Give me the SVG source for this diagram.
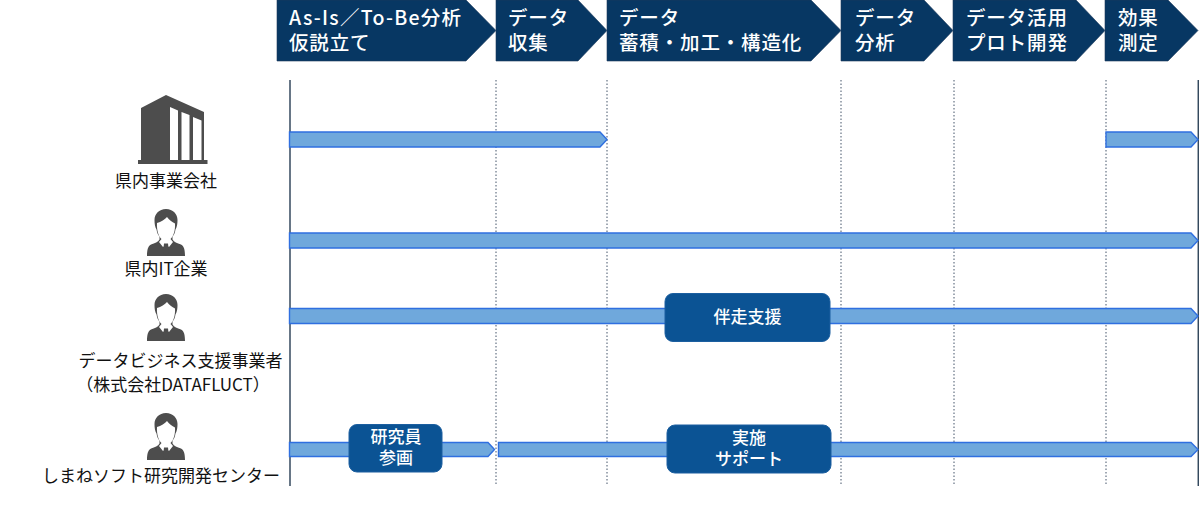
<svg xmlns="http://www.w3.org/2000/svg" xmlns:xlink="http://www.w3.org/1999/xlink" width="1199" height="530" viewBox="0 0 1199 530">
<style>
text{font-family:"Noto Sans CJK JP","Noto Sans",sans-serif}
.h{fill:#073763;stroke:#1f3b5c;stroke-width:.6}
.ht{fill:#fff;font-size:19.500px;font-weight:500;letter-spacing:.85px}
.l{fill:#111;font-size:17px;text-anchor:middle}
.b{fill:#6fa8dc;stroke:#2f6fe0;stroke-width:1.400}
.n{fill:#0b5394;stroke:#1c5fa0;stroke-width:1}
.nt{fill:#fff;font-size:17px;font-weight:500;text-anchor:middle}
.d{stroke:#44546a;stroke-width:1;stroke-dasharray:1.500 2;fill:none}
.s{stroke:#34495e;stroke-width:1.500;fill:none}
.ic{fill:#4d4d4d}
</style>
<defs>
<g id="person">
<path class="ic" d="M0 0C-7 0-11.500 5-11.500 11C-11.500 15-11 18-9.500 20.500C-9 24-8 26-6.500 27.500L-6.500 30.500C-8 33-11 34-15 35.500C-18 37-19 41-19 47L19 47C19 41 18 37 15 35.500C11 34 8 33 6.500 30.500L6.500 27.500C8 26 9 24 9.500 20.500C11 18 11.500 15 11.500 11C11.500 5 7 0 0 0Z"/>
<path fill="#fff" d="M-9 14C-5 13-1 10 1 8C3 11 6 13 9 14.500C9.500 22 7 28 4.500 30L7 33L3 38L0 36L-3 38L-7 33L-4.500 30C-7 28-9.500 22-9 14Z"/>
<path class="ic" d="M-2 34.500L2 34.500L3 44L0 46.500L-3 44Z"/>
</g>
</defs>
<g id="connectors">
<path class="s" d="M290 80V486"/>
<path class="s" d="M1198.300 80V486"/>
<path class="d" d="M496 80V486M607 80V486M841 80V486M954 80V486M1106 80V486"/>
<path class="b" d="M289.500 132H600L607 139.500L600 147H289.500Z"/>
<path class="b" d="M1106 132H1191L1198 139.500L1191 147H1106Z"/>
<path class="b" d="M289.500 233H1191L1198 240.500L1191 248H289.500Z"/>
<path class="b" d="M289.500 308.500H1191L1198 316L1191 323.500H289.500Z"/>
<path class="b" d="M289.500 442.500H488L494.500 449.500L488 456.500H289.500Z"/>
<path class="b" d="M498.500 442.500H1191L1198 449.500L1191 456.500H498.500Z"/>
</g>
<g id="step1"><path class="h" d="M277 0H466L496 30.500L466 61H277Z"/><text class="ht"><tspan x="289" y="24.500" letter-spacing="1.300">As-Is／To-Be分析</tspan><tspan x="289" y="49.500">仮説立て</tspan></text></g>
<g id="step2"><path class="h" d="M496 0H578L607 30.500L578 61H496Z"/><text class="ht"><tspan x="508" y="24.500">データ</tspan><tspan x="508" y="49.500">収集</tspan></text></g>
<g id="step3"><path class="h" d="M607 0H811L841 30.500L811 61H607Z"/><text class="ht"><tspan x="619" y="24.500">データ</tspan><tspan x="619" y="49.500">蓄積・加工・構造化</tspan></text></g>
<g id="step4"><path class="h" d="M841 0H924L953 30.500L924 61H841Z"/><text class="ht"><tspan x="855" y="24.500">データ</tspan><tspan x="855" y="49.500">分析</tspan></text></g>
<g id="step5"><path class="h" d="M953 0H1076L1105 30.500L1076 61H953Z"/><text class="ht"><tspan x="966" y="24.500">データ活用</tspan><tspan x="966" y="49.500">プロト開発</tspan></text></g>
<g id="step6"><path class="h" d="M1105 0H1168L1198 30.500L1168 61H1105Z"/><text class="ht"><tspan x="1118" y="24.500">効果</tspan><tspan x="1118" y="49.500">測定</tspan></text></g>
<g id="company">
<path class="ic" d="M141 108L166 95L204 112V160H207.500V164H138V160H141Z"/>
<path fill="#fff" d="M170 107L178 110.500V160H170ZM181.500 112L189.500 115V160H181.500ZM193 117L201.500 120.500V160H193Z"/>
<text class="l" x="166" y="187">県内事業会社</text>
</g>
<g id="it"><use xlink:href="#person" href="#person" x="166" y="209"/><text class="l" x="166" y="274.500">県内IT企業</text></g>
<g id="datafluct"><use xlink:href="#person" href="#person" x="166" y="294"/><text class="l"><tspan x="180.500" y="367">データビジネス支援事業者</tspan><tspan x="173" y="391">（株式会社DATAFLUCT）</tspan></text></g>
<g id="shimane"><use xlink:href="#person" href="#person" x="166" y="413"/><text class="l" x="161" y="482">しまねソフト研究開発センター</text></g>
<g id="support"><rect class="n" x="665" y="293.500" width="165" height="48" rx="8"/><text class="nt" x="747.500" y="323">伴走支援</text></g>
<g id="research"><rect class="n" x="349" y="424.500" width="93" height="47.500" rx="8"/><text class="nt"><tspan x="396" y="443">研究員</tspan><tspan x="396" y="464">参画</tspan></text></g>
<g id="implement"><rect class="n" x="667" y="425" width="164" height="48" rx="8"/><text class="nt"><tspan x="749" y="444">実施</tspan><tspan x="749" y="465">サポート</tspan></text></g>
</svg>
